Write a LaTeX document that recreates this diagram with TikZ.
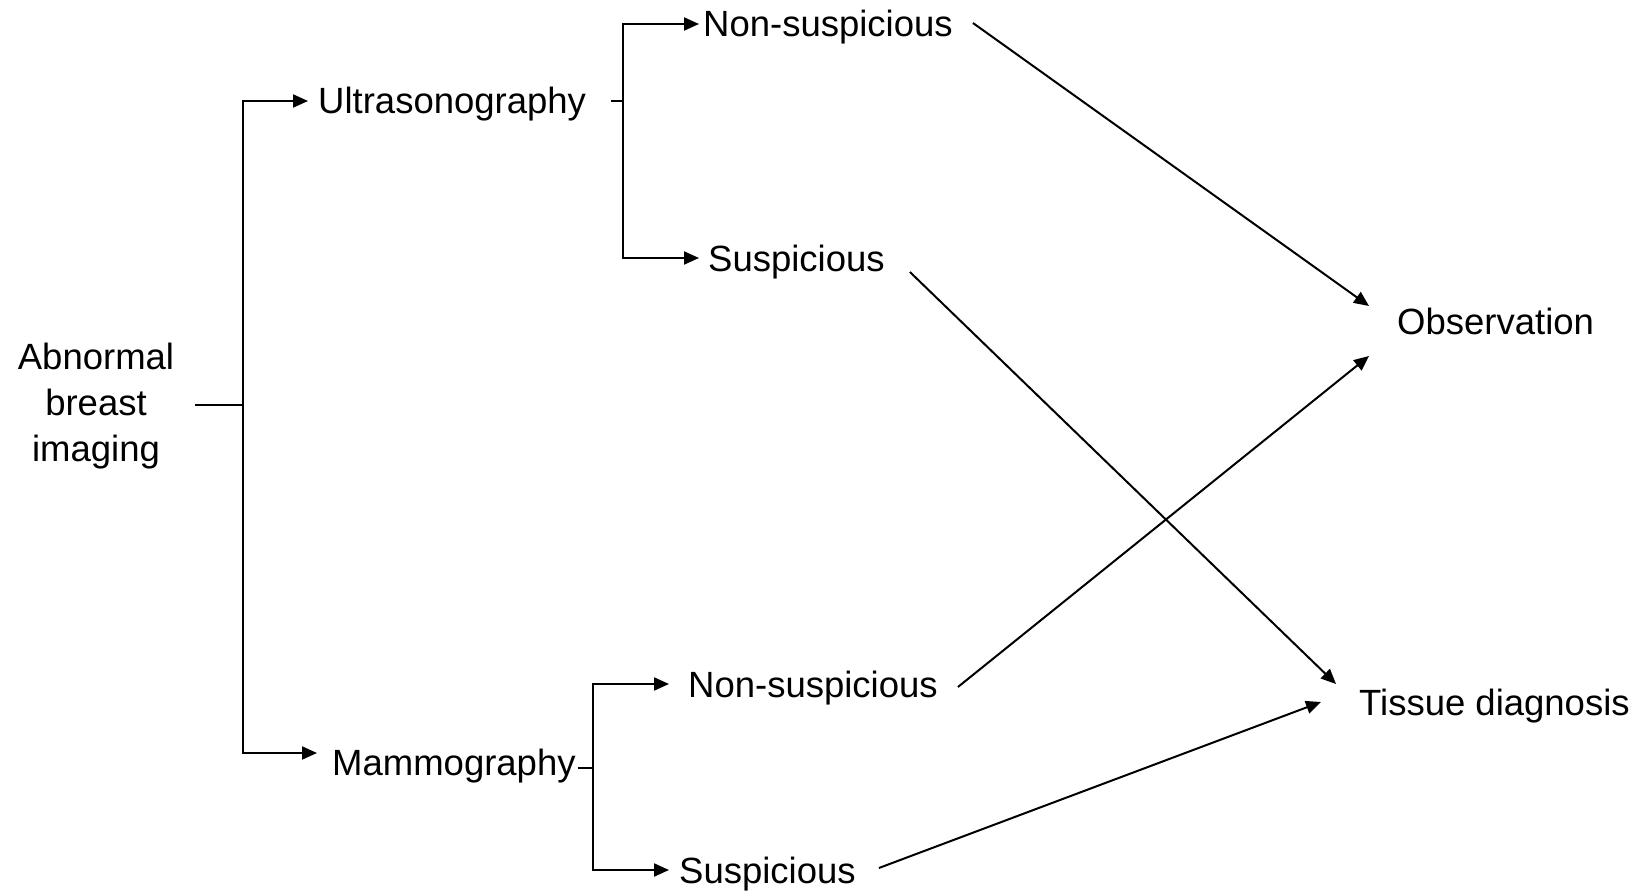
\documentclass[tikz,border=0pt]{standalone}
\usepackage{fontspec}
\setmainfont{Liberation Sans}
\usetikzlibrary{arrows.meta}
\begin{document}
\begin{tikzpicture}[x=1pt,y=-1pt,
  txt/.style={inner sep=0pt,font=\fontsize{36.5pt}{46pt}\selectfont},
  lbl/.style={txt,anchor=west,text height=26pt,text depth=0pt},
  link/.style={line width=2pt},
  arr/.style={link,-{Triangle[length=15pt,width=13pt]}},
]
\useasboundingbox (0,0) rectangle (1644,896);

% labels
\node[txt,align=center] (abn) at (96,406) {Abnormal\\breast\\imaging};
\node[lbl] (us)  at (318,101) {Ultrasonography};
\node[lbl] (mam) at (332,762) {Mammography};
\node[lbl] (ns1) at (703,24)  {Non-suspicious};
\node[lbl] (s1)  at (708,258) {Suspicious};
\node[lbl] (ns2) at (688,684) {Non-suspicious};
\node[lbl] (s2)  at (679,870) {Suspicious};
\node[lbl] (obs) at (1397,321) {Observation};
\node[lbl] (tis) at (1359,702) {Tissue diagnosis};

% branch points
\coordinate (j1) at (243,405);
\coordinate (j2) at (623,101);
\coordinate (j3) at (593,768);

% first split: imaging modality
\draw[link] ([shift={(21,-1)}]abn.east) -- (j1);
\draw[arr,shorten >=10pt] (j1) |- (us.west);
\draw[arr] (j1) |- ([shift={(-15,-9)}]mam.west);

% ultrasonography outcomes
\draw[link] ([shift={(25,0)}]us.east) -- (j2);
\draw[arr,shorten >=4pt] (j2) |- (ns1.west);
\draw[arr,shorten >=9pt] (j2) |- (s1.west);

% mammography outcomes
\draw[link] ([shift={(2,6)}]mam.east) -- (j3);
\draw[arr,shorten >=19pt] (j3) |- (ns2.west);
\draw[arr,shorten >=10pt] (j3) |- (s2.west);

% management
\draw[arr] ([shift={(20,-1)}]ns1.east) -- ([shift={(-28,-15)}]obs.west);
\draw[arr] ([shift={(25,14)}]s1.east) -- ([shift={(-23,-18)}]tis.west);
\draw[arr] ([shift={(20,3)}]ns2.east) -- ([shift={(-28,35)}]obs.west);
\draw[arr] ([shift={(23,-2)}]s2.east) -- ([shift={(-38,0)}]tis.west);
\end{tikzpicture}
\end{document}
